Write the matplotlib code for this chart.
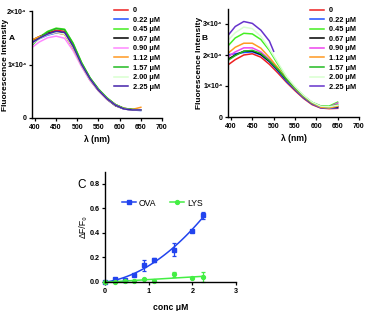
import numpy as np
import matplotlib
matplotlib.use("Agg")
import matplotlib.pyplot as plt

plt.rcParams['font.family'] = ['Liberation Sans', 'DejaVu Sans']

# ---------------- data ----------------
wl = [390, 410, 430, 450, 470, 490, 510, 530, 550, 570, 590, 610, 630, 650]
labels = ["0", "0.22 \u03bcM", "0.45 \u03bcM", "0.67 \u03bcM", "0.90 \u03bcM",
          "1.12 \u03bcM", "1.57 \u03bcM", "2.00 \u03bcM", "2.25 \u03bcM"]

# Panel A (x 1e4)
a_0    = [1.38, 1.50, 1.59, 1.64, 1.62, 1.36, 1.02, 0.74, 0.53, 0.37, 0.25, 0.18, 0.16, 0.15]
a_022  = [1.40, 1.48, 1.55, 1.59, 1.57, 1.32, 0.99, 0.72, 0.52, 0.36, 0.24, 0.17, 0.15, 0.14]
a_045  = [1.36, 1.51, 1.62, 1.68, 1.66, 1.40, 1.04, 0.75, 0.54, 0.38, 0.25, 0.18, 0.16, 0.15]
a_067  = [1.44, 1.52, 1.58, 1.61, 1.58, 1.31, 0.98, 0.71, 0.51, 0.35, 0.23, 0.17, 0.15, 0.15]
a_090  = [1.30, 1.42, 1.50, 1.53, 1.49, 1.26, 0.96, 0.70, 0.51, 0.35, 0.24, 0.17, 0.15, 0.15]
a_112  = [1.45, 1.52, 1.57, 1.60, 1.56, 1.31, 0.99, 0.72, 0.52, 0.36, 0.24, 0.18, 0.16, 0.20]
a_157  = [1.34, 1.49, 1.61, 1.67, 1.65, 1.39, 1.03, 0.75, 0.54, 0.37, 0.25, 0.18, 0.16, 0.15]
a_200  = [1.37, 1.48, 1.56, 1.60, 1.57, 1.32, 0.99, 0.72, 0.52, 0.36, 0.24, 0.17, 0.15, 0.15]
a_225  = [1.39, 1.49, 1.57, 1.62, 1.60, 1.34, 1.00, 0.73, 0.52, 0.36, 0.24, 0.17, 0.15, 0.15]

# Panel B (x 1e4)
b_0    = [1.65, 1.85, 2.00, 2.04, 1.93, 1.70, 1.42, 1.12, 0.85, 0.60, 0.40, 0.29, 0.27, 0.28]
b_022  = [2.00, 2.04, 2.08, 2.10, 2.00, 1.78, 1.48, 1.15, 0.88, 0.62, 0.42, 0.30, 0.28, 0.30]
b_045  = [2.25, 2.55, 2.70, 2.68, 2.50, 2.15, 1.70, 1.28, 0.95, 0.68, 0.47, 0.36, 0.35, 0.48]
b_067  = [1.84, 2.00, 2.12, 2.13, 2.02, 1.80, 1.52, 1.20, 0.92, 0.66, 0.45, 0.34, 0.32, 0.33]
b_090  = [1.92, 2.10, 2.23, 2.23, 2.10, 1.85, 1.55, 1.22, 0.93, 0.67, 0.46, 0.33, 0.32, 0.45]
b_112  = [2.02, 2.25, 2.38, 2.38, 2.22, 1.92, 1.58, 1.22, 0.92, 0.66, 0.45, 0.32, 0.29, 0.35]
b_157  = [1.80, 1.98, 2.12, 2.15, 2.05, 1.82, 1.54, 1.22, 0.94, 0.68, 0.47, 0.35, 0.33, 0.40]
b_200  = [2.43, 2.72, 2.90, 2.85, 2.60, 2.20, 1.75, 1.30, 0.98, 0.70, 0.48, 0.35, 0.33, 0.38]
wl_b225 = [390, 410, 430, 450, 470, 490, 500]
b_225  = [2.58, 2.92, 3.08, 3.02, 2.80, 2.45, 2.12]

# Panel C
conc     = [0, 0.22, 0.45, 0.67, 0.90, 1.12, 1.57, 2.00, 2.25]
ova_mean = [0.0, 0.022, 0.016, 0.060, 0.135, 0.178, 0.265, 0.415, 0.545]
ova_err  = [0.0, 0.004, 0.004, 0.006, 0.045, 0.015, 0.055, 0.010, 0.030]
lys_mean = [0.0, 0.0, 0.005, 0.012, 0.025, 0.005, 0.062, 0.035, 0.038]
lys_err  = [0.0, 0.0, 0.0, 0.0, 0.0, 0.0, 0.020, 0.0, 0.040]

colors_a = ['#ee2020', '#2050ff', '#44ee22', '#000000', '#ff88ff',
            '#ff9922', '#22bb22', '#d8ffd0', '#4422aa']
colors_b = ['#ee2020', '#2050ff', '#44ee22', '#000000', '#ee44ee',
            '#ff9922', '#22bb22', '#d8ffd0', '#6633cc']

W, H = 365, 311
fig = plt.figure(figsize=(W / 100, H / 100), dpi=100)

def ax_px(l, t, r, b):
    return fig.add_axes([l / W, 1 - b / H, (r - l) / W, (b - t) / H])

def style(ax, fs=5.0):
    for s in ['top', 'right']:
        ax.spines[s].set_visible(False)
    for s in ['left', 'bottom']:
        ax.spines[s].set_linewidth(1.0)
    ax.tick_params(direction='out', length=2.5, width=0.9, labelsize=fs, pad=1.5)
    for lab in ax.get_xticklabels() + ax.get_yticklabels():
        lab.set_fontweight('bold')

LW = 1.1
leg_prop = {'weight': 'bold', 'size': 5.3}

# ---------- Panel A ----------
axA = ax_px(32, 11, 162, 118)
seriesA = [a_0, a_022, a_045, a_067, a_090, a_112, a_157, a_200, a_225]
for s, c, lab in zip(seriesA, colors_a, labels):
    axA.plot(wl, np.array(s) * 1e4, color=c, lw=LW, label=lab)
axA.set_xlim(393, 700)
axA.set_ylim(0, 2e4)
axA.set_xticks([400, 450, 500, 550, 600, 650, 700])
axA.set_yticks([0, 1e4, 2e4])
axA.set_yticklabels(['0', '1\u00d710\u2074', '2\u00d710\u2074'])
style(axA)
axA.set_xlabel('\u03bb (nm)', fontsize=6.2, fontweight='bold', labelpad=3)
axA.set_ylabel('Fluorescence Intensity', fontsize=6.0, fontweight='bold')
axA.yaxis.set_label_coords(-0.18, 0.5)
axA.legend(loc='upper left', bbox_to_anchor=((107 - 32) / 130, 1.1), frameon=False,
           handlelength=2.0, handletextpad=0.6, labelspacing=0.33, prop=leg_prop)
fig.text(12 / W, 1 - 39 / H, 'A', fontsize=6, fontweight='bold', ha='center', va='center')

# ---------- Panel B ----------
axB = ax_px(228, 8.5, 359, 117)
seriesB = [b_0, b_022, b_045, b_067, b_090, b_112, b_157, b_200]
for s, c, lab in zip(seriesB, colors_b[:8], labels[:8]):
    axB.plot(wl, np.array(s) * 1e4, color=c, lw=LW, label=lab)
axB.plot(wl_b225, np.array(b_225) * 1e4, color=colors_b[8], lw=LW, label=labels[8])
axB.set_xlim(393, 700)
axB.set_ylim(0, 3.5e4)
axB.set_xticks([400, 450, 500, 550, 600, 650, 700])
axB.set_yticks([0, 1e4, 2e4, 3e4])
axB.set_yticklabels(['0', '1\u00d710\u2074', '2\u00d710\u2074', '3\u00d710\u2074'])
style(axB)
axB.set_xlabel('\u03bb (nm)', fontsize=6.2, fontweight='bold', labelpad=3)
axB.set_ylabel('Fluorescence Intensity', fontsize=6.0, fontweight='bold')
axB.yaxis.set_label_coords(-0.19, 0.5)
axB.legend(loc='upper left', bbox_to_anchor=((303 - 228) / 131, 1.075), frameon=False,
           handlelength=2.0, handletextpad=0.6, labelspacing=0.33, prop=leg_prop)
fig.text(205 / W, 1 - 39 / H, 'B', fontsize=6, fontweight='bold', ha='center', va='center')

# ---------- Panel C ----------
axC = ax_px(105, 171.7, 236, 282)
blue, green = '#2244ee', '#44ee44'
po = np.polyfit(conc, ova_mean, 2)
pl = np.polyfit(conc, lys_mean, 1)
xs = np.linspace(0, max(conc), 100)
axC.plot(xs, np.polyval(po, xs), color=blue, lw=LW)
axC.plot(xs, np.polyval(pl, xs), color=green, lw=LW)
axC.errorbar(conc, ova_mean, yerr=ova_err, fmt='s', color=blue, ms=2.8, capsize=1.5,
             elinewidth=0.9, capthick=0.9, clip_on=False)
axC.errorbar(conc, lys_mean, yerr=lys_err, fmt='o', color=green, ms=2.8, capsize=1.5,
             elinewidth=0.9, capthick=0.9, clip_on=False)
axC.plot([], [], '-s', color=blue, ms=2.8, lw=LW, label='OVA')
axC.plot([], [], '-o', color=green, ms=2.8, lw=LW, label='LYS')
axC.set_xlim(0, 3)
axC.set_ylim(0, 0.9)
axC.set_xticks([0, 1, 2, 3])
axC.set_yticks([0, 0.2, 0.4, 0.6, 0.8])
axC.set_yticklabels(['0.0', '0.2', '0.4', '0.6', '0.8'])
style(axC, fs=5.2)
axC.set_xlabel('conc \u03bcM', fontsize=6.2, fontweight='bold', labelpad=6)
axC.set_ylabel('\u0394F/F\u2080', fontsize=6.4)
axC.yaxis.set_label_coords(-0.13, 0.5)
axC.legend(loc='center left', bbox_to_anchor=((114 - 105) / 131, (282 - 203) / 110.3),
           ncol=2, frameon=False, fontsize=6.2, handlelength=1.6, handletextpad=0.4,
           columnspacing=1.6)
fig.text(82 / W, 1 - 185 / H, 'C', fontsize=8.5, ha='center', va='center')

fig.savefig('out.png', dpi=100)
